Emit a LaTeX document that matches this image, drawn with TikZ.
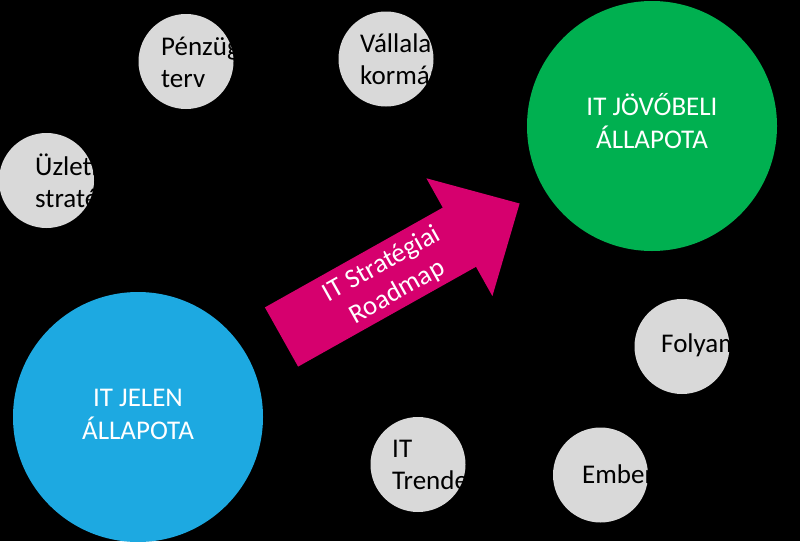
\documentclass[tikz,border=0pt]{standalone}
\usepackage{fontspec}
\setmainfont{Carlito}
\definecolor{cgray}{RGB}{217,217,217}
\definecolor{cblue}{RGB}{29,169,225}
\definecolor{cgreen}{RGB}{0,176,80}
\definecolor{cmag}{RGB}{214,0,110}
\tikzset{
  smallcircle/.style={circle, fill=cgray, minimum size=95pt, inner sep=0pt},
  bigcircle/.style={circle, minimum size=250pt, inner sep=0pt, text=white,
    font=\fontsize{27}{32}\selectfont, align=center},
  smalltext/.style={anchor=north west, inner sep=0pt, align=left, text=black,
    font=\fontsize{27}{32}\selectfont},
  arrowtext/.style={inner sep=0pt, align=center, text=white,
    font=\fontsize{27}{32}\selectfont, rotate=29.3}
}
\begin{document}
\begin{tikzpicture}[x=1pt,y=-1pt]
\fill[black] (0,0) rectangle (800,541);
\useasboundingbox (0,0) rectangle (800,541);

% big circles
\node[bigcircle, fill=cblue] (jelen) at (138,417) {\strut IT JELEN\\\strut ÁLLAPOTA};
\node[bigcircle, fill=cgreen] (jovo) at (652,126) {\strut IT JÖVŐBELI\\\strut ÁLLAPOTA};

% arrow
\fill[cmag] (264.9,307.4) -- (442.8,207.6) -- (426.4,178.3) -- (519.6,203.5)
  -- (492.4,296.1) -- (476.0,266.8) -- (298.1,366.6) -- cycle;
\node[arrowtext] (roadmap) at (390,279) {\strut IT Stratégiai\\\strut Roadmap};

% small circles
\node[smallcircle] (penz) at (186,61.5) {};
\begin{scope}
  \clip (penz.center) circle[radius=47.5pt];
  \node[smalltext] (penzt) at (161,32.6) {\strut Pénzügyi\\\strut terv};
\end{scope}

\node[smallcircle] (vall) at (386,59) {};
\begin{scope}
  \clip (vall.center) circle[radius=47.5pt];
  \node[smalltext] (vallt) at (360,29.6) {\strut Vállalati\\\strut kormányzás};
\end{scope}

\node[smallcircle] (uzl) at (46.5,180.5) {};
\begin{scope}
  \clip (uzl.center) circle[radius=47.5pt];
  \node[smalltext] (uzlt) at (35,152.6) {\strut Üzleti\\\strut stratégia};
\end{scope}

\node[smallcircle] (trend) at (418,464.5) {};
\begin{scope}
  \clip (trend.center) circle[radius=47.5pt];
  \node[smalltext] (trendt) at (392,434.6) {\strut IT\\\strut Trendek};
\end{scope}

\node[smallcircle] (ember) at (600.5,475) {};
\begin{scope}
  \clip (ember.center) circle[radius=47.5pt];
  \node[smalltext] (embert) at (582,460.6) {\strut Emberek};
\end{scope}

\node[smallcircle] (foly) at (682,346.5) {};
\begin{scope}
  \clip (foly.center) circle[radius=47.5pt];
  \node[smalltext] (folyt) at (661,329.6) {\strut Folyamatok};
\end{scope}
\end{tikzpicture}
\end{document}
